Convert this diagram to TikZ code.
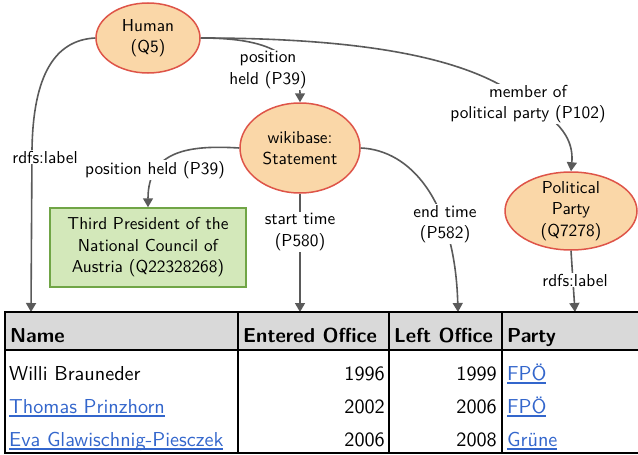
\documentclass[tikz,border=0pt]{standalone}
\usepackage{fontspec}
\setsansfont{lmsans10-regular.otf}[BoldFont=lmsans10-bold.otf]
\usetikzlibrary{shapes.geometric,arrows.meta,positioning}
\definecolor{entfill}{RGB}{250,215,168}
\definecolor{entline}{RGB}{222,84,72}
\definecolor{valfill}{RGB}{211,232,186}
\definecolor{valline}{RGB}{112,165,70}
\definecolor{edgegray}{RGB}{90,90,90}
\definecolor{headgray}{RGB}{217,217,217}
\definecolor{linkblue}{RGB}{51,102,204}
\newcommand{\wlink}[1]{{\color{linkblue}\setbox0\hbox{#1}\rlap{\rule[-3.5pt]{\wd0}{1.2pt}}\box0}}
\begin{document}
\begin{tikzpicture}[x=1pt,y=-1pt,
  font=\sffamily\fontsize{17.3}{21.5}\selectfont,
  entity/.style={ellipse,draw=entline,fill=entfill,line width=1.5pt,align=center,inner sep=-8pt},
  value/.style={rectangle,draw=valline,fill=valfill,line width=1.5pt,align=center},
  prop/.style={fill=white,align=center,inner sep=1pt},
  edge/.style={draw=edgegray,line width=1.6pt,-{Triangle[width=10pt,length=9pt]}},
  cell/.style={font=\sffamily\fontsize{20.2}{23}\selectfont,inner sep=0pt},
  head/.style={font=\sffamily\bfseries\fontsize{20.2}{23}\selectfont,inner sep=0pt}]
\clip (0,0) rectangle (638,455);
\node[entity,minimum width=104,minimum height=70] (human) at (148,38) {Human\\(Q5)};
\node[entity,minimum width=120,minimum height=90] (stmt) at (300,148) {wikibase:\\Statement};
\node[entity,minimum width=132,minimum height=78] (party) at (571,211) {Political\\Party\\(Q7278)};
\node[value,minimum width=196,minimum height=79] (office) at (148,247.5) {Third President of the\\National Council of\\Austria (Q22328268)};
\coordinate (tname) at (31,312);
\coordinate (tstart) at (300,312);
\coordinate (tend) at (458,312);
\coordinate (tparty) at (575,312);
\draw[edge] (human.west) .. controls (55,40) and (33,75) .. (32,150) -- (tname);
\draw[edge] (human.east) .. controls (260,38) and (300,50) .. (stmt.north);
\draw[edge] (human.east) .. controls (380,38) and (480,62) .. (528,104) .. controls (560,120) and (574,140) .. (party.north);
\draw[edge] (stmt.west) .. controls (190,145) and (148,150) .. (office.north);
\draw[edge] (stmt.south) -- (tstart);
\draw[edge] (stmt.east) .. controls (410,150) and (455,200) .. (tend);
\draw[edge] (party.south) -- (tparty);
\node[prop] (lhum) at (45,157) {rdfs:label};
\node[prop] (lpos) at (268,70) {position\\held (P39)};
\node[prop] (lmem) at (528,104) {member of\\political party (P102)};
\node[prop] (lpos2) at (155,170) {position held (P39)};
\node[prop] (lstart) at (300,232) {start time\\(P580)};
\node[prop] (lend) at (445,224) {end time\\(P582)};
\node[prop] (lparty) at (575,280) {rdfs:label};
% table
\fill[headgray] (5,312) rectangle (650,350);
\draw[line width=2.2pt] (5,312) rectangle (650,453);
\draw[line width=2.2pt] (5,350) -- (650,350);
\draw[line width=2.2pt] (238,312) -- (238,453);
\draw[line width=2.2pt] (389,312) -- (389,453);
\draw[line width=2.2pt] (502,312) -- (502,453);
\node[head,anchor=base west] (hname) at (10,342) {Name};
\node[head,anchor=base west] (hentered) at (243,342) {Entered Office};
\node[head,anchor=base west] (hleft) at (394,342) {Left Office};
\node[head,anchor=base west] (hparty) at (507,342) {Party};
\node[cell,anchor=base west] (n1) at (9,380) {Willi Brauneder};
\node[cell,anchor=base west] (n2) at (9,413) {\wlink{Thomas Prinzhorn}};
\node[cell,anchor=base west] (n3) at (9,446) {\wlink{Eva Glawischnig-Piesczek}};
\node[cell,anchor=base east] (e1) at (385,380) {1996};
\node[cell,anchor=base east] (e2) at (385,413) {2002};
\node[cell,anchor=base east] (e3) at (385,446) {2006};
\node[cell,anchor=base east] (l1) at (497,380) {1999};
\node[cell,anchor=base east] (l2) at (497,413) {2006};
\node[cell,anchor=base east] (l3) at (497,446) {2008};
\node[cell,anchor=base west] (p1) at (507,380) {\wlink{FPÖ}};
\node[cell,anchor=base west] (p2) at (507,413) {\wlink{FPÖ}};
\node[cell,anchor=base west] (p3) at (507,446) {\wlink{Grüne}};
\end{tikzpicture}
\end{document}
